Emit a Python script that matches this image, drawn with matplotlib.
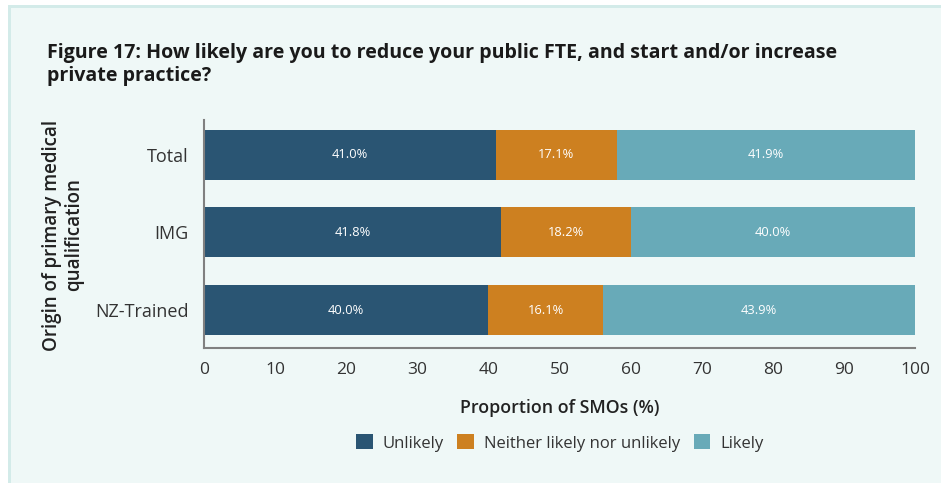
import matplotlib
matplotlib.use("Agg")
import matplotlib.pyplot as plt
from matplotlib.patches import Rectangle
import numpy as np

categories = ["Total", "IMG", "NZ-Trained"]
unlikely = [41.0, 41.8, 40.0]
neither = [17.1, 18.2, 16.1]
likely = [41.9, 40.0, 43.9]
series_names = ["Unlikely", "Neither likely nor unlikely", "Likely"]
colors = ["#2a5573", "#cd8020", "#68aab8"]
xticks = [0, 10, 20, 30, 40, 50, 60, 70, 80, 90, 100]

bg = "#eff8f7"
border = "#d3ebe9"
plt.rcParams["font.family"] = ["Open Sans", "DejaVu Sans"]

W, H = 941, 483
fig = plt.figure(figsize=(W / 100, H / 100), dpi=100)
fig.patch.set_facecolor("white")

# panel background with a thin border on the left and top
fig.add_artist(Rectangle((8 / W, 0), 1 - 8 / W, 1 - 5 / H, transform=fig.transFigure,
                         facecolor=border, edgecolor="none", zorder=-3))
fig.add_artist(Rectangle((11 / W, 0), 1 - 11 / W, 1 - 8 / H, transform=fig.transFigure,
                         facecolor=bg, edgecolor="none", zorder=-2))

ax = fig.add_axes([204 / W, 1 - 348 / H, (915 - 204) / W, (348 - 120) / H])
ax.set_facecolor(bg)

y = np.arange(len(categories))
h = 0.645
left = np.zeros(len(categories))
for vals, name, c in zip([unlikely, neither, likely], series_names, colors):
    bars = ax.barh(y, vals, left=left, height=h, color=c, label=name)
    for b, v in zip(bars, vals):
        ax.text(b.get_x() + b.get_width() / 2, b.get_y() + b.get_height() / 2,
                f"{v:.1f}%", ha="center", va="center", color="white", fontsize=9.3)
    left += np.array(vals)

ax.set_xlim(0, 100)
ax.set_ylim(len(categories) - 1 + 0.49, -0.45)
ax.set_xticks(xticks)
ax.set_xticklabels([str(t) for t in xticks])
ax.set_yticks(y)
ax.set_yticklabels(categories)
ax.tick_params(axis="both", length=0, labelsize=12.5, colors="#333333")
ax.tick_params(axis="x", pad=10)
ax.tick_params(axis="y", pad=11, labelsize=13)
for s in ["top", "right"]:
    ax.spines[s].set_visible(False)
for s in ["left", "bottom"]:
    ax.spines[s].set_color("#808080")
    ax.spines[s].set_linewidth(1.5)

ax.set_xlabel("Proportion of SMOs (%)", fontsize=12.8, fontweight="semibold",
              color="#222222", labelpad=15)
fig.text(63 / W, 1 - 235 / H, "Origin of primary medical\nqualification", rotation=90,
         ha="center", va="center", fontsize=13.5, fontweight="semibold",
         color="#222222", linespacing=1.1)

fig.text(47 / W, 1 - 43 / H,
         "Figure 17: How likely are you to reduce your public FTE, and start and/or increase\nprivate practice?",
         ha="left", va="top", fontsize=14.1, fontweight="bold", color="#1a1a1a",
         linespacing=1.2)

handles, labels = ax.get_legend_handles_labels()
fig.legend(handles, labels, loc="center", bbox_to_anchor=(560 / W, 1 - 443 / H),
           ncol=3, frameon=False, fontsize=12, handlelength=1.0, handleheight=1.0,
           handletextpad=0.6, columnspacing=0.8, labelcolor="#333333")

fig.savefig("out.png", dpi=100, facecolor=fig.get_facecolor())
